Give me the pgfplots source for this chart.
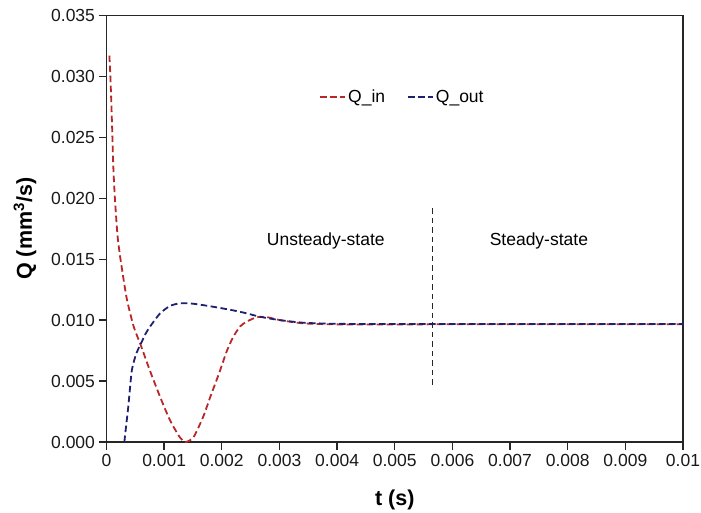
\documentclass[border=0pt]{standalone}
\usepackage{fontspec}
\setmainfont{Liberation Sans}
\usepackage{pgfplots}
\pgfplotsset{compat=1.18}
\definecolor{qin}{RGB}{185,40,40}
\definecolor{qout}{RGB}{32,32,112}
\begin{document}
\begin{tikzpicture}
\begin{axis}[
  scale only axis,
  width=576.5pt, height=426.5pt,
  xmin=0, xmax=0.01, ymin=0, ymax=0.035,
  axis line style={line width=1.5pt, black!85},
  tick style={line width=1.3pt, black!85},
  major tick length=8pt,
  tick align=outside,
  tick pos=left,
  xtick={0,0.001,0.002,0.003,0.004,0.005,0.006,0.007,0.008,0.009,0.01},
  xticklabels={0,0.001,0.002,0.003,0.004,0.005,0.006,0.007,0.008,0.009,0.01},
  ytick={0,0.005,0.010,0.015,0.020,0.025,0.030,0.035},
  yticklabels={0.000,0.005,0.010,0.015,0.020,0.025,0.030,0.035},
  scaled ticks=false,
  /pgf/number format/assume math mode=true,
  ticklabel style={font=\fontsize{17.5}{20}\selectfont, text=black!90},
  xticklabel style={yshift=-1pt},
  xlabel={\textbf{t (s)}},
  ylabel={\textbf{Q (mm\textsuperscript{3}/s)}},
  label style={font=\fontsize{21.5}{24}\selectfont},
  xlabel style={at={(axis description cs:0.5,-0.136)}, anchor=center},
  ylabel style={at={(axis description cs:-0.1414,0.5)}, anchor=center},
  legend columns=2,
  legend style={draw=none, fill=none, at={(axis description cs:0.5134,0.8096)}, anchor=center,
    font=\fontsize{17.5}{20}\selectfont,
    /tikz/every even column/.append style={column sep=20pt}},
  legend image code/.code={\draw[#1] (0pt,0pt) -- (25pt,0pt);},
]
\addplot[qin, line width=1.8pt, dash pattern=on 6.5pt off 3.5pt, smooth, tension=0.4] coordinates {
(0.00005,0.0317) (0.00007,0.0297) (0.000095,0.0262) (0.000118,0.0226) (0.000147,0.0199)
(0.00019,0.0170) (0.00024,0.0151) (0.00035,0.0118) (0.00047,0.0095) (0.00059,0.0080)
(0.00075,0.0059) (0.00093,0.0037) (0.0011,0.0018) (0.00127,0.0004) (0.00137,0.0)
(0.00151,0.0004) (0.00168,0.0021) (0.0018,0.0037) (0.00195,0.0056) (0.00209,0.0075)
(0.0022,0.00864) (0.00232,0.0095) (0.00243,0.00987) (0.0026,0.01023) (0.00278,0.01025)
(0.00301,0.0100) (0.00341,0.00974) (0.00388,0.00966) (0.0045,0.00964) (0.006,0.00966)
(0.008,0.00966) (0.01,0.00966)
};
\addlegendentry{Q\_in}
\addplot[qout, line width=1.8pt, dash pattern=on 6.5pt off 3.5pt, smooth, tension=0.4] coordinates {
(0.00031,0.0) (0.00034,0.0013) (0.00038,0.0030) (0.00044,0.0059) (0.00052,0.0073)
(0.00059,0.0080) (0.00068,0.0089) (0.00076,0.0095) (0.00093,0.01056) (0.0011,0.01116)
(0.00127,0.01138) (0.0015,0.01135) (0.00185,0.0111) (0.0022,0.0108) (0.00243,0.01056)
(0.00266,0.01028) (0.00301,0.0100) (0.00341,0.00979) (0.00388,0.00971) (0.0045,0.00968)
(0.006,0.00968) (0.008,0.00968) (0.01,0.00968)
};
\addlegendentry{Q\_out}
\addplot[black!85, line width=1.6pt, dash pattern=on 5.5pt off 4pt, forget plot] coordinates {
(0.005658,0.01918) (0.005658,0.00468)
};
\node[font=\fontsize{17.5}{20}\selectfont, anchor=base] at (axis cs:0.003804,0.01611) {Unsteady-state};
\node[font=\fontsize{17.5}{20}\selectfont, anchor=base] at (axis cs:0.0075,0.01611) {Steady-state};
\end{axis}
\pgfresetboundingbox
\path (-106.5pt,-70pt) rectangle (594.5pt,442pt);
\end{tikzpicture}
\end{document}
